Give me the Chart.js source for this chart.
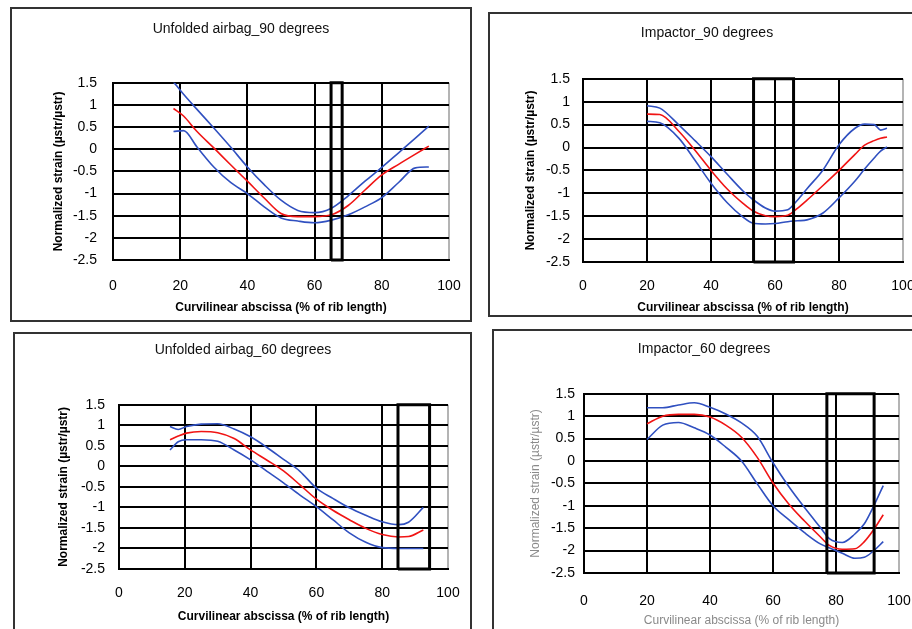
<!DOCTYPE html>
<html>
<head>
<meta charset="utf-8">
<script src="https://cdn.jsdelivr.net/npm/chart.js@4.4.1/dist/chart.umd.min.js"></script>
<style>
  html, body { margin: 0; padding: 0; background: #fff; overflow: hidden; }
  body { width: 912px; height: 629px; position: relative; }
  .panel { position: absolute; box-sizing: border-box; border: 2px solid #333; }
  canvas { position: absolute; }
</style>
</head>
<body>
<div class="panel" style="left:10px;top:7px;width:462px;height:315px"></div>
<div class="panel" style="left:488px;top:12px;width:440px;height:305px"></div>
<div class="panel" style="left:13px;top:332px;width:459px;height:310px"></div>
<div class="panel" style="left:492px;top:329px;width:440px;height:310px"></div>

<canvas id="c1" width="458" height="311" style="left:12px;top:9px"></canvas>
<canvas id="c2" width="434" height="301" style="left:490px;top:14px"></canvas>
<canvas id="c3" width="455" height="295" style="left:15px;top:334px"></canvas>
<canvas id="c4" width="426" height="298" style="left:494px;top:331px"></canvas>

<script>
// --- data ---
const titles = ["Unfolded airbag_90 degrees", "Impactor_90 degrees", "Unfolded airbag_60 degrees", "Impactor_60 degrees"];
const yTitle = "Normalized strain (µstr/µstr)";
const xTitle = "Curvilinear abscissa (% of rib length)";
const xTicks = [0, 20, 40, 60, 80, 100];
const yTicks = [-2.5, -2, -1.5, -1, -0.5, 0, 0.5, 1, 1.5];

// Unfolded airbag 90
const ua90X     = [18, 21, 25, 30, 35, 40, 45, 50, 55, 60, 65, 70, 75, 80, 85, 90, 94];
const ua90Upper = [1.52, 1.24, 0.9, 0.48, 0.05, -0.4, -0.8, -1.15, -1.38, -1.43, -1.33, -1.05, -0.72, -0.41, -0.08, 0.25, 0.52];
const ua90Mean  = [0.92, 0.75, 0.4, 0.03, -0.35, -0.72, -1.1, -1.45, -1.52, -1.52, -1.48, -1.27, -0.92, -0.58, -0.34, -0.11, 0.07];
const ua90Lower = [0.4, 0.42, 0.05, -0.4, -0.75, -1.0, -1.3, -1.55, -1.62, -1.66, -1.6, -1.48, -1.3, -1.09, -0.75, -0.42, -0.4];
const ua90Box   = [64.9, 68.2];

// Impactor 90
const im90X     = [20, 24, 30, 35, 40, 45, 50, 53, 57, 60, 64, 67, 70, 75, 80, 85, 88, 91, 93, 95];
const im90Upper = [0.91, 0.86, 0.49, 0.15, -0.2, -0.58, -0.95, -1.13, -1.32, -1.39, -1.36, -1.15, -0.9, -0.49, 0.06, 0.42, 0.51, 0.5, 0.38, 0.42];
const im90Mean  = [0.73, 0.72, 0.35, -0.06, -0.5, -0.9, -1.22, -1.38, -1.49, -1.51, -1.48, -1.33, -1.15, -0.83, -0.5, -0.15, 0.05, 0.15, 0.2, 0.23];
const im90Lower = [0.57, 0.54, 0.2, -0.28, -0.78, -1.2, -1.52, -1.65, -1.67, -1.66, -1.62, -1.6, -1.58, -1.43, -1.1, -0.73, -0.47, -0.23, -0.08, 0.01];
const im90Box   = [53.3, 65.8];

// Unfolded airbag 60
const ua60X     = [15.5, 18, 20.5, 25, 30, 35, 40, 45, 50, 55, 60, 65, 70, 75, 80, 85, 88, 92.5];
const ua60Upper = [0.97, 0.9, 0.97, 1.03, 1.04, 0.91, 0.72, 0.46, 0.17, -0.12, -0.53, -0.78, -1.01, -1.19, -1.35, -1.42, -1.36, -1.0];
const ua60Mean  = [0.65, 0.74, 0.81, 0.85, 0.82, 0.68, 0.4, 0.15, -0.11, -0.45, -0.8, -1.07, -1.3, -1.51, -1.66, -1.72, -1.71, -1.55];
const ua60Lower = [0.4, 0.6, 0.65, 0.65, 0.61, 0.4, 0.16, -0.12, -0.4, -0.7, -0.98, -1.3, -1.62, -1.85, -1.98, -2.0, -2.0, -2.0];
const ua60Box   = [84.8, 94.4];

// Impactor 60
const im60X     = [20, 25, 30, 35, 40, 45, 50, 55, 60, 65, 70, 75, 78, 82, 86, 89, 92, 95];
const im60Upper = [1.19, 1.19, 1.25, 1.3, 1.2, 1.05, 0.85, 0.55, -0.04, -0.57, -1.04, -1.48, -1.74, -1.82, -1.63, -1.4, -1.0, -0.55];
const im60Mean  = [0.83, 1.0, 1.04, 1.04, 0.98, 0.8, 0.53, 0.08, -0.49, -0.96, -1.34, -1.69, -1.89, -1.97, -1.96, -1.8, -1.53, -1.2];
const im60Lower = [0.48, 0.8, 0.86, 0.74, 0.58, 0.31, 0.0, -0.51, -1.0, -1.31, -1.6, -1.85, -1.94, -2.06, -2.17, -2.15, -2.0, -1.8];
const im60Box   = [77.1, 92.1];

const BLUE = "#3050c0";
const RED = "#f01414";
const FONT = "'Liberation Sans', Arial, sans-serif";

function pts(xs, ys) {
  return xs.map((x, i) => ({ x: x, y: ys[i] }));
}

function boxPts(b) {
  const lo = yTicks[0], hi = yTicks[yTicks.length - 1];
  return [{ x: b[0], y: lo }, { x: b[0], y: hi }, { x: b[1], y: hi }, { x: b[1], y: lo }, { x: b[0], y: lo }];
}

function makeChart(id, title, xs, upper, mean, lower, box, lay) {
  const line = (data, color) => ({
    data: data, borderColor: color, borderWidth: 1.6, pointRadius: 0,
    cubicInterpolationMode: "monotone", fill: false
  });
  return new Chart(document.getElementById(id), {
    type: "line",
    data: {
      datasets: [
        { data: boxPts(box), borderColor: "#000", borderWidth: 3, pointRadius: 0, tension: 0, clip: false },
        line(pts(xs, mean), RED),
        line(pts(xs, upper), BLUE),
        line(pts(xs, lower), BLUE)
      ]
    },
    options: {
      responsive: false,
      animation: false,
      layout: { padding: { left: lay.padL, right: lay.padR, top: 0, bottom: 0 } },
      plugins: {
        legend: { display: false },
        tooltip: { enabled: false },
        title: {
          display: true, text: title, color: "#111",
          font: { family: FONT, size: 14, weight: "normal" },
          padding: { top: lay.titleTop, bottom: lay.titleBottom }
        }
      },
      scales: {
        x: {
          type: "linear", min: xTicks[0], max: xTicks[xTicks.length - 1],
          afterFit: s => { s.height = lay.xHeight; s.paddingLeft = 0; s.paddingRight = 0; },
          ticks: { stepSize: 20, padding: lay.xTickPad, color: "#000", font: { family: FONT, size: 14 }, maxRotation: 0 },
          grid: { drawTicks: false, lineWidth: 2, color: c => (c.tick && c.tick.value === 100) ? "#b4b4b4" : "#000" },
          border: { color: "#000", width: 2 },
          title: {
            display: true, text: xTitle, color: lay.axisColor,
            font: { family: FONT, size: 12, weight: lay.axisWeight },
            padding: { top: 0, bottom: lay.xTitlePad }
          }
        },
        y: {
          min: yTicks[0], max: yTicks[yTicks.length - 1],
          afterFit: s => { s.width = lay.yWidth; s.paddingTop = 0; s.paddingBottom = 0; },
          ticks: { stepSize: 0.5, autoSkip: false, padding: lay.yTickPad, color: "#000", font: { family: FONT, size: 14 }, callback: v => String(v) },
          grid: { drawTicks: false, lineWidth: 2, color: "#000" },
          border: { color: "#000", width: 2 },
          title: {
            display: true, text: yTitle, color: lay.axisColor,
            font: { family: FONT, size: 12, weight: lay.axisWeight },
            padding: { top: lay.yTitlePad, bottom: 0 }
          }
        }
      }
    }
  });
}

makeChart("c1", titles[0], ua90X, ua90Upper, ua90Mean, ua90Lower, ua90Box,
  { padL: 21, padR: 21, yWidth: 80, xHeight: 60, titleTop: 12, titleBottom: 45, yTitlePad: 18, yTickPad: 16, xTickPad: 18, xTitlePad: 5, axisColor: "#000", axisWeight: "bold" });
makeChart("c2", titles[1], im90X, im90Upper, im90Mean, im90Lower, im90Box,
  { padL: 21, padR: 21, yWidth: 72, xHeight: 53, titleTop: 11, titleBottom: 37, yTitlePad: 12, yTickPad: 13, xTickPad: 16, xTitlePad: 0, axisColor: "#000", axisWeight: "bold" });
makeChart("c3", titles[2], ua60X, ua60Upper, ua60Mean, ua60Lower, ua60Box,
  { padL: 23, padR: 22, yWidth: 81, xHeight: 60, titleTop: 8, titleBottom: 46, yTitlePad: 18, yTickPad: 14, xTickPad: 16, xTitlePad: 5, axisColor: "#000", axisWeight: "bold" });
makeChart("c4", titles[3], im60X, im60Upper, im60Mean, im60Lower, im60Box,
  { padL: 15, padR: 21, yWidth: 75, xHeight: 56, titleTop: 10, titleBottom: 36, yTitlePad: 19, yTickPad: 9, xTickPad: 20, xTitlePad: 1, axisColor: "#8a8a8a", axisWeight: "normal" });
</script>
</body>
</html>
